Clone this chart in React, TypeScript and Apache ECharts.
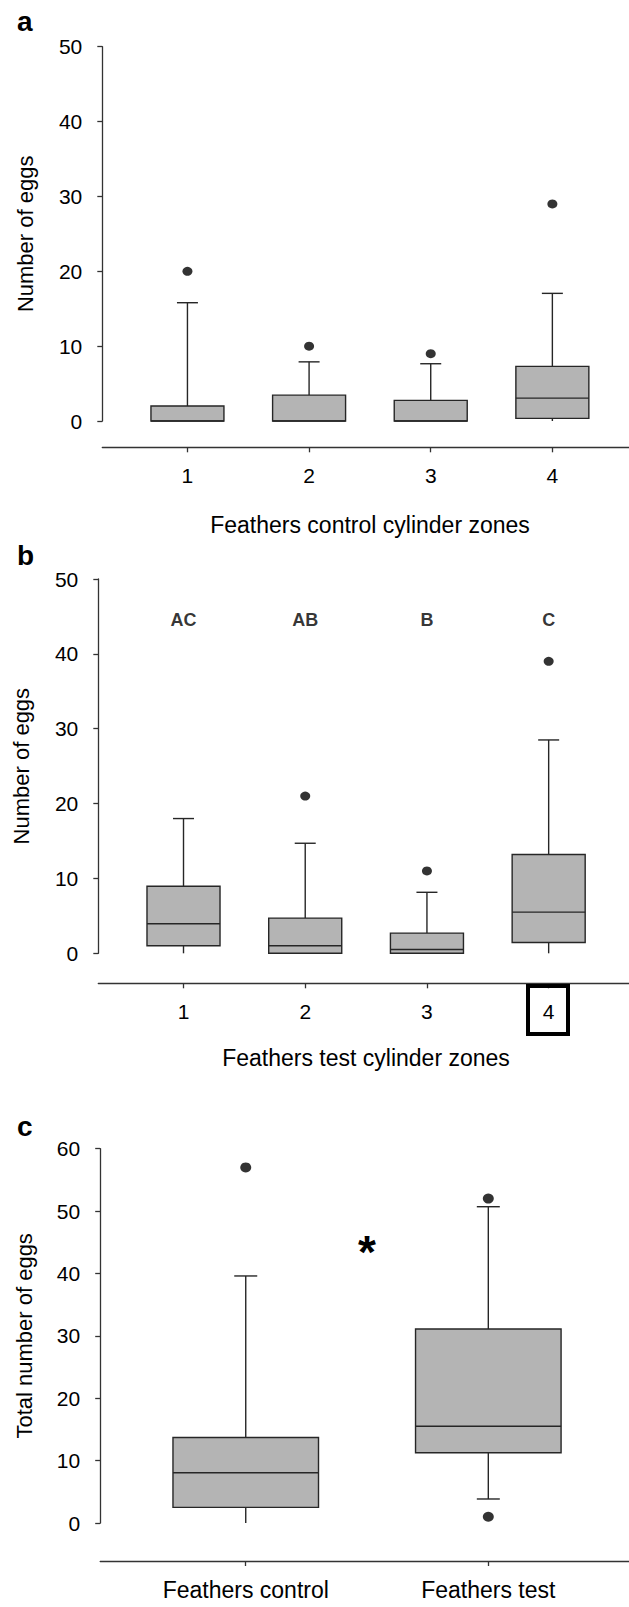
import React, { useEffect, useRef } from "react";
import * as echarts from "echarts";

const FONT = "'Liberation Sans', Arial, sans-serif";

// Panel a: Feathers control cylinder zones
const zonesA = ["1", "2", "3", "4"];
// [low whisker, Q1, median, Q3, high whisker]
const boxesA = [
  [0, 0, 0, 2.0, 15.8],
  [0, 0, 0, 3.45, 7.9],
  [0, 0, 0, 2.75, 7.65],
  [0, 0.35, 3.05, 7.3, 17.05],
];
const outliersA = [
  [1, 20],
  [2, 10],
  [3, 9],
  [4, 29],
];

// Panel b: Feathers test cylinder zones
const zonesB = ["1", "2", "3", "4"];
const boxesB = [
  [0, 1.0, 3.95, 8.95, 18.0],
  [0, 0, 1.0, 4.7, 14.7],
  [0, 0, 0.5, 2.7, 8.15],
  [0, 1.45, 5.5, 13.2, 28.5],
];
const outliersB = [
  [2, 21],
  [3, 11],
  [4, 39],
];
const lettersB = ["AC", "AB", "B", "C"];
const lettersY = 44.5;

// Panel c: totals
const groupsC = ["Feathers control", "Feathers test"];
const boxesC = [
  [0, 2.5, 8.05, 13.7, 39.6],
  [3.85, 11.25, 15.5, 31.1, 50.7],
];
const outliersC = [
  [1, 57],
  [2, 52],
  [2, 1],
];

const STROKE = "#262626";
const FILL = "#b4b4b4";

function boxRenderer(halfW: number, capPx: number) {
  return (params: any, api: any) => {
    const x = api.value(0);
    const low = api.value(1);
    const q1 = api.value(2);
    const med = api.value(3);
    const q3 = api.value(4);
    const high = api.value(5);
    const pc = (v: number) => api.coord([x, v]);
    const cx = pc(0)[0];
    const ls = { stroke: STROKE, lineWidth: 1.4 };
    const children: any[] = [];
    if (high > q3) {
      const a = pc(q3), b = pc(high);
      children.push({ type: "line", shape: { x1: cx, y1: a[1], x2: cx, y2: b[1] }, style: ls });
      children.push({ type: "line", shape: { x1: cx - capPx / 2, y1: b[1], x2: cx + capPx / 2, y2: b[1] }, style: ls });
    }
    if (low < q1) {
      const a = pc(q1), b = pc(low);
      children.push({ type: "line", shape: { x1: cx, y1: a[1], x2: cx, y2: b[1] }, style: ls });
      if (low > 0) {
        children.push({ type: "line", shape: { x1: cx - capPx / 2, y1: b[1], x2: cx + capPx / 2, y2: b[1] }, style: ls });
      }
    }
    const tl = api.coord([x - halfW, q3]);
    const br = api.coord([x + halfW, q1]);
    children.push({
      type: "rect",
      shape: { x: tl[0], y: tl[1], width: br[0] - tl[0], height: br[1] - tl[1] },
      style: { fill: FILL, stroke: STROKE, lineWidth: 1.4 },
    });
    const ml = api.coord([x - halfW, med]);
    const mr = api.coord([x + halfW, med]);
    children.push({ type: "line", shape: { x1: ml[0], y1: ml[1], x2: mr[0], y2: mr[1] }, style: ls });
    return { type: "group", children };
  };
}

function toBoxData(boxes: number[][]) {
  return boxes.map((b, i) => [i + 1, ...b]);
}

function xAxisCfg(grid: number, min: number, max: number, offset: number, labels: string[], fontSize: number, margin: number) {
  const vals = labels.map((_, i) => i + 1);
  return {
    type: "value",
    gridIndex: grid,
    min,
    max,
    position: "bottom",
    offset,
    axisLine: { show: true, onZero: false, lineStyle: { color: "#333", width: 1.3 } },
    axisTick: { show: true, length: 5, customValues: vals, lineStyle: { color: "#333", width: 1.3 } },
    axisLabel: {
      customValues: vals,
      formatter: (v: number) => labels[Math.round(v) - 1] ?? "",
      fontSize,
      fontFamily: FONT,
      color: "#000",
      margin,
    },
    splitLine: { show: false },
  };
}

function yAxisCfg(grid: number, max: number, name: string, nameGap: number) {
  return {
    type: "value",
    gridIndex: grid,
    min: 0,
    max,
    interval: 10,
    name,
    nameLocation: "middle",
    nameGap,
    nameTextStyle: { fontSize: 22, fontFamily: FONT, color: "#000" },
    axisLine: { show: true, onZero: false, lineStyle: { color: "#333", width: 1.3 } },
    axisTick: { show: true, length: 5, lineStyle: { color: "#333", width: 1.3 } },
    axisLabel: { fontSize: 21, fontFamily: FONT, color: "#000", margin: 20 },
    splitLine: { show: false },
  };
}

export default function App() {
  const ref = useRef<HTMLDivElement>(null);
  useEffect(() => {
    if (!ref.current) return;
    const chart = echarts.init(ref.current, undefined, { renderer: "svg" });
    const option: any = {
      animation: false,
      backgroundColor: "#fff",
      grid: [
        { left: 102.3, right: 0, top: 46.7, height: 374.3 },
        { left: 98.3, right: 0, top: 579, height: 374.3 },
        { left: 100.2, right: 0, top: 1148.7, height: 374.3 },
      ],
      xAxis: [
        xAxisCfg(0, 0.3, 4.63, 26.3, zonesA, 21, 18),
        xAxisCfg(1, 0.3, 4.66, 30, zonesB, 21, 18),
        xAxisCfg(2, 0.4, 2.58, 38, groupsC, 23, 17),
      ],
      yAxis: [
        yAxisCfg(0, 50, "Number of eggs", 66),
        yAxisCfg(1, 50, "Number of eggs", 66),
        yAxisCfg(2, 60, "Total number of eggs", 65),
      ],
      series: [
        { type: "custom", xAxisIndex: 0, yAxisIndex: 0, renderItem: boxRenderer(0.3, 21), data: toBoxData(boxesA), encode: { x: 0, y: [1, 2, 3, 4, 5] }, z: 2 },
        { type: "scatter", xAxisIndex: 0, yAxisIndex: 0, data: outliersA, symbolSize: [10, 9], itemStyle: { color: "#000" }, z: 3 },
        { type: "custom", xAxisIndex: 1, yAxisIndex: 1, renderItem: boxRenderer(0.3, 21), data: toBoxData(boxesB), encode: { x: 0, y: [1, 2, 3, 4, 5] }, z: 2 },
        { type: "scatter", xAxisIndex: 1, yAxisIndex: 1, data: outliersB, symbolSize: [10, 9], itemStyle: { color: "#000" }, z: 3 },
        {
          type: "scatter",
          xAxisIndex: 1,
          yAxisIndex: 1,
          data: lettersB.map((t, i) => [i + 1, lettersY, t]),
          symbolSize: 0,
          label: {
            show: true,
            position: "inside",
            formatter: (p: any) => p.value[2],
            fontSize: 18,
            fontWeight: "bold",
            fontFamily: FONT,
            color: "#000",
          },
          z: 3,
        },
        { type: "custom", xAxisIndex: 2, yAxisIndex: 2, renderItem: boxRenderer(0.3, 23), data: toBoxData(boxesC), encode: { x: 0, y: [1, 2, 3, 4, 5] }, z: 2 },
        { type: "scatter", xAxisIndex: 2, yAxisIndex: 2, data: outliersC, symbolSize: [11, 10], itemStyle: { color: "#000" }, z: 3 },
      ],
      graphic: [
        { type: "text", x: 17, y: 21, style: { text: "a", fontSize: 28, fontWeight: "bold", fontFamily: FONT, fill: "#000", verticalAlign: "middle" } },
        { type: "text", x: 17, y: 555, style: { text: "b", fontSize: 28, fontWeight: "bold", fontFamily: FONT, fill: "#000", verticalAlign: "middle" } },
        { type: "text", x: 17, y: 1126, style: { text: "c", fontSize: 28, fontWeight: "bold", fontFamily: FONT, fill: "#000", verticalAlign: "middle" } },
        {
          type: "text",
          x: 370,
          y: 525,
          style: { text: "Feathers control cylinder zones", fontSize: 23, fontFamily: FONT, fill: "#000", align: "center", verticalAlign: "middle" },
        },
        {
          type: "text",
          x: 366,
          y: 1058,
          style: { text: "Feathers test cylinder zones", fontSize: 23, fontFamily: FONT, fill: "#000", align: "center", verticalAlign: "middle" },
        },
        {
          type: "rect",
          shape: { x: 528, y: 986, width: 40, height: 48 },
          style: { fill: "none", stroke: "#000", lineWidth: 4 },
          z: 10,
        },
        {
          type: "text",
          x: 367,
          y: 1229,
          style: { text: "*", fontSize: 46, fontWeight: "bold", fontFamily: FONT, fill: "#000", align: "center", verticalAlign: "top" },
        },
      ],
    };
    chart.setOption(option);
    return () => chart.dispose();
  }, []);
  return <div ref={ref} style={{ position: "absolute", left: 0, top: 0, width: 629, height: 1607 }} />;
}
